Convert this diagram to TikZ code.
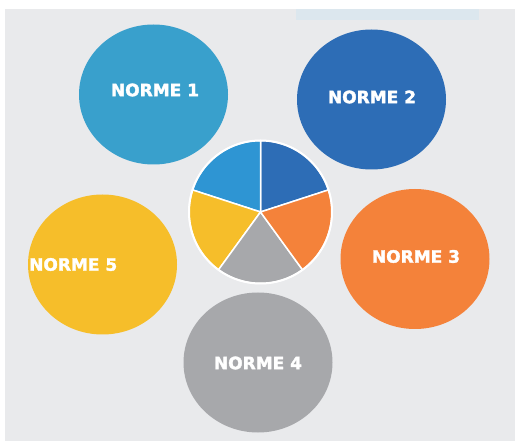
\documentclass[tikz,border=0pt]{standalone}
\usepackage{fontspec}
\usepackage{tikz}
\usetikzlibrary{shapes.geometric}
\newfontfamily\normefont{DejaVu Sans}[BoldFeatures={FakeBold=2}]
\definecolor{bg}{HTML}{E9EAEC}
\definecolor{snip}{HTML}{DCE7EE}
\definecolor{lblue}{HTML}{39A0CC}
\definecolor{dblue}{HTML}{2D6DB6}
\definecolor{orng}{HTML}{F4823A}
\definecolor{grey}{HTML}{A7A8AB}
\definecolor{yell}{HTML}{F6BE2A}
\definecolor{pblue}{HTML}{2E95D3}
\newcommand\rp{71.5}
\newcommand\cx{260.5}
\newcommand\cy{212}
\tikzset{
	bubble/.style={ellipse, minimum width=149pt, minimum height=140pt, inner sep=0pt},
	lbl/.style={text=white, inner sep=0pt, font=\normefont\bfseries\fontsize{17}{20}\selectfont}
}

\begin{document}
\begin{tikzpicture}[x=1pt,y=-1pt]
\useasboundingbox (0,0) rectangle (515,441);
\fill[white] (0,0) rectangle (515,441);
\fill[bg] (5,9) rectangle (515,441);
\fill[snip] (296,9) rectangle (479,20);
% the five circles
\node[bubble, fill=lblue] (norme1) at (153.5,94.5) {};
\node[bubble, fill=dblue] (norme2) at (371.5,99.5) {};
\node[bubble, fill=orng] (norme3) at (415,259) {};
\node[bubble, fill=grey] (norme4) at (258,362.5) {};
\node[bubble, fill=yell] (norme5) at (102.5,264.5) {};
\node[lbl] (lab1) at (155,90) {NORME 1};
\node[lbl] (lab2) at (372,97) {NORME 2};
\node[lbl] (lab3) at (416,256.5) {NORME 3};
\node[lbl] (lab4) at (258,363) {NORME 4};
\node[lbl, anchor=west] (lab5) at (29,264.5) {NORME 5};
% the pie
\coordinate (pie) at (\cx,\cy);
\foreach \a/\c in {-90/dblue, -162/pblue, -234/yell, -306/grey, -378/orng} {
	\filldraw[fill=\c, draw=white, line width=1.5pt, line join=round] (pie) -- ++(\a:\rp) arc[start angle=\a, end angle=\a+72, radius=\rp] -- cycle;
}
\draw[white, line width=2pt] (pie) circle[radius=\rp];
\end{tikzpicture}
\end{document}
